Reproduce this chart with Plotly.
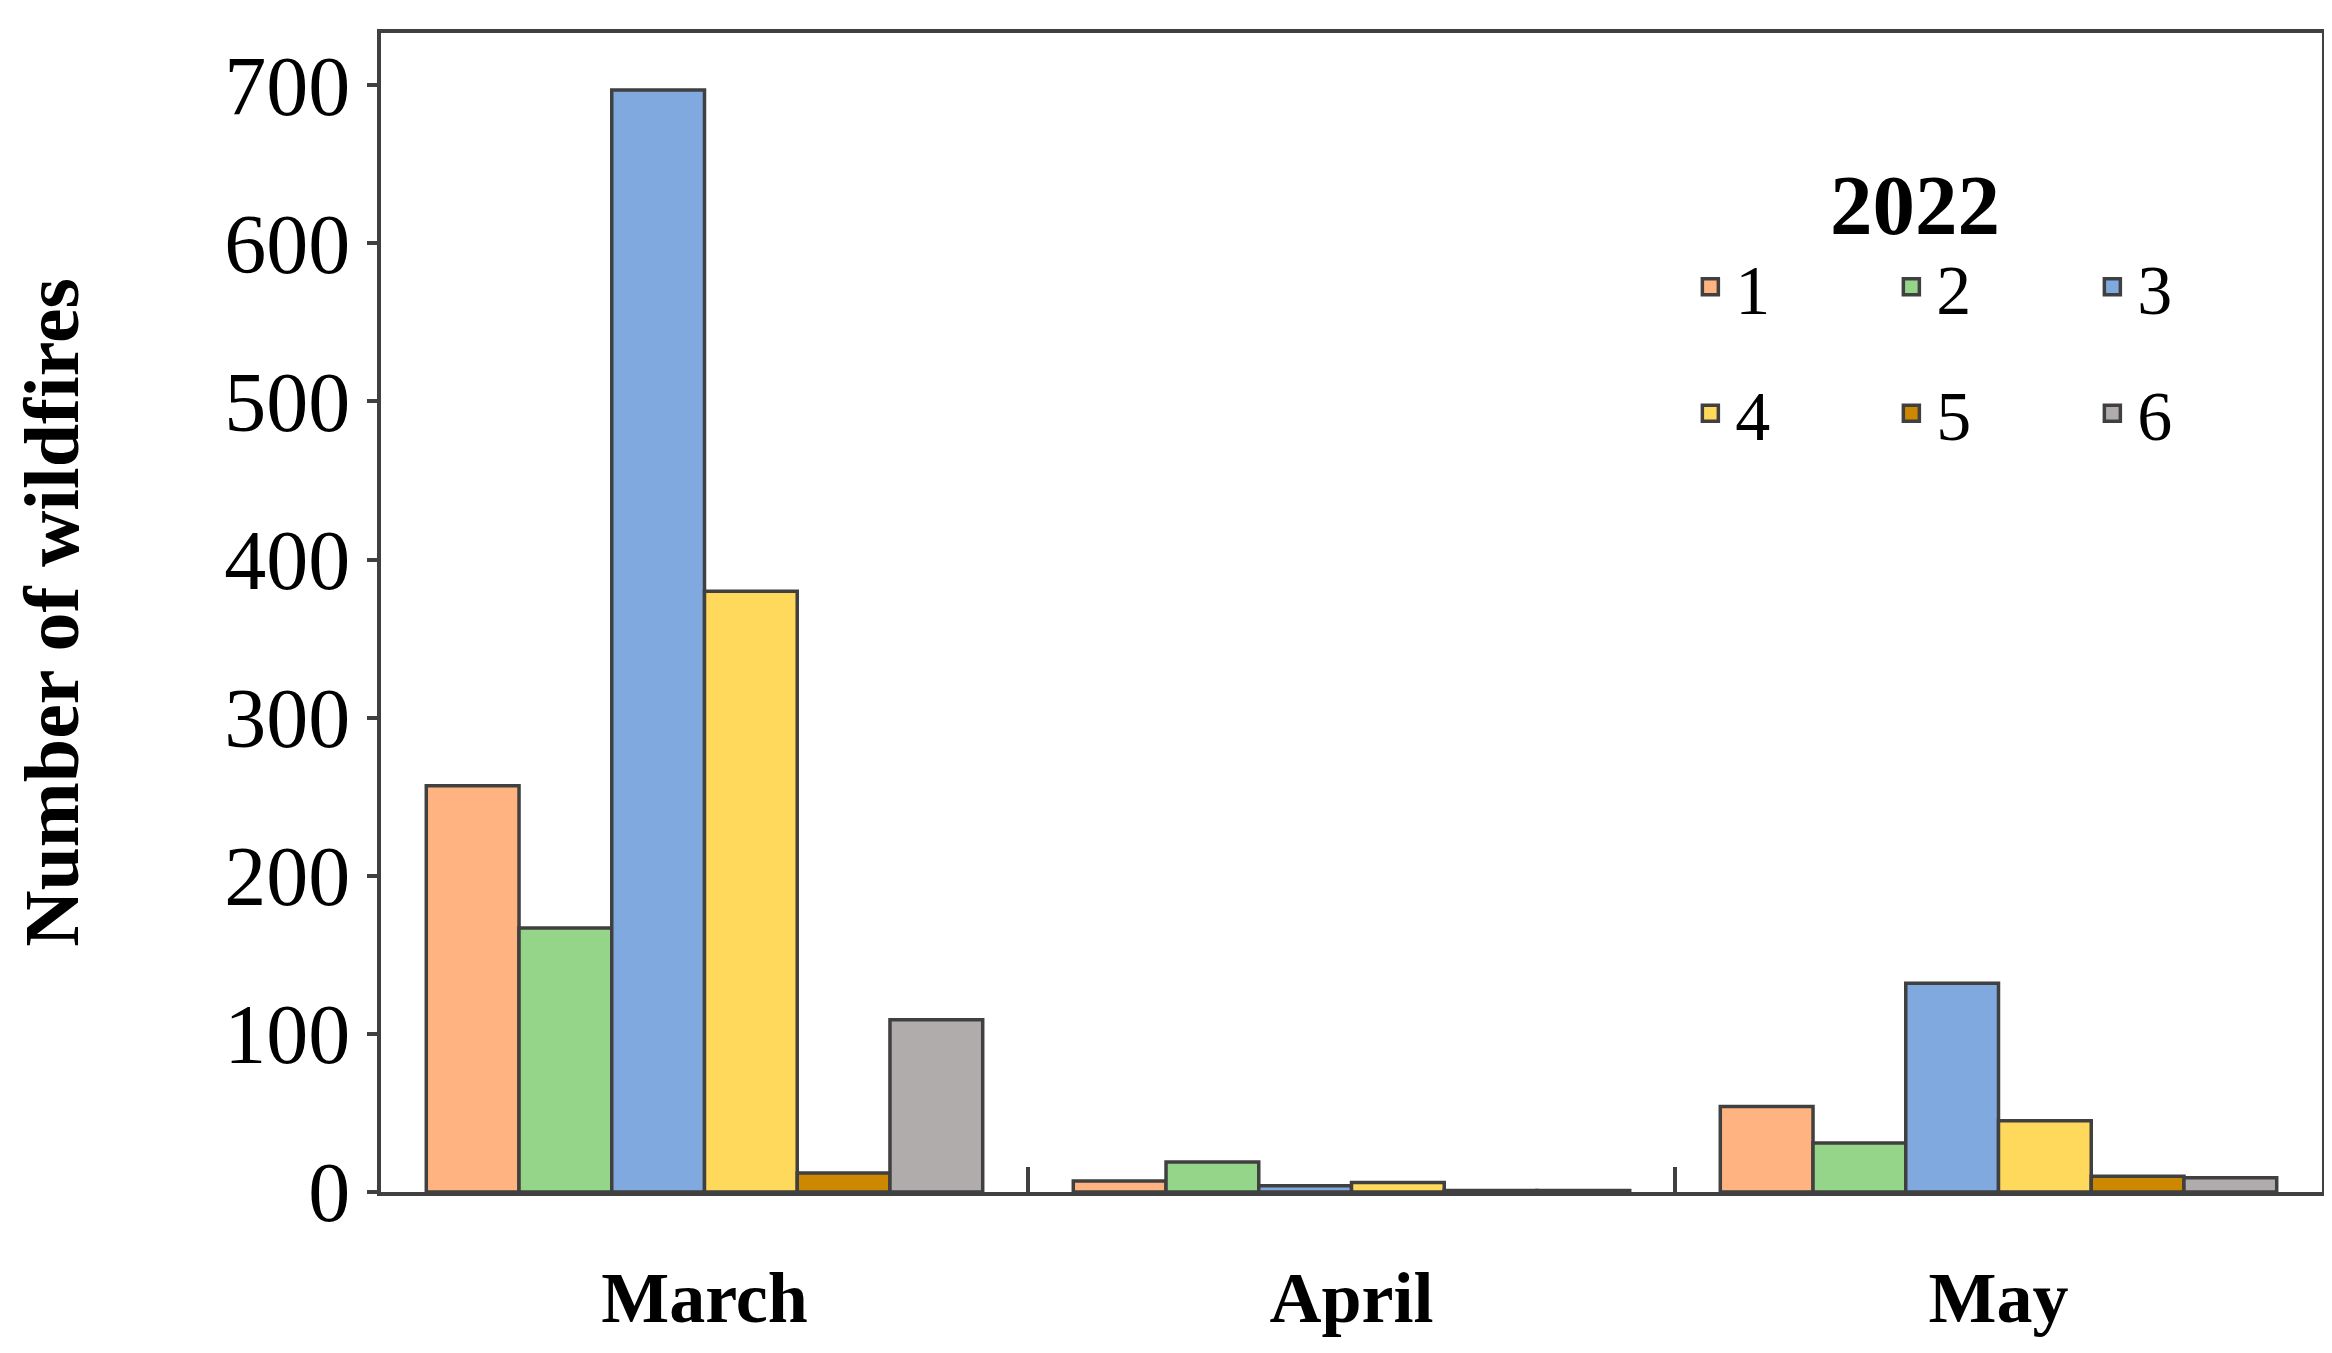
import plotly.graph_objects as go

months = ["March", "April", "May"]
series_names = ["1", "2", "3", "4", "5", "6"]
values = [
    [257, 7, 54],
    [167, 19, 31],
    [697, 4, 132],
    [380, 6, 45],
    [12, 1, 10],
    [109, 1, 9],
]
colors = ["#FFB380", "#95D58A", "#80AADF", "#FFD95C", "#CC8800", "#B0ACAC"]
y_ticks = [0, 100, 200, 300, 400, 500, 600, 700]

FONT = "Liberation Serif"
fig = go.Figure()
for i, (n, v, c) in enumerate(zip(series_names, values, colors)):
    fig.add_bar(x=months, y=v, name=n, showlegend=False,
                marker=dict(color=c, line=dict(color="#404040", width=3.5)))
for i, (n, c) in enumerate(zip(series_names, colors)):
    fig.add_scatter(x=[None], y=[None], mode="markers", name=n,
                    marker=dict(symbol="square", size=40, color=c, line=dict(color="#404040", width=3.5)),
                    legend="legend" if i < 3 else "legend2")

legend_common = dict(orientation="h", entrywidth=146, entrywidthmode="pixels",
                     font=dict(family=FONT, size=70, color="black"), bgcolor="rgba(0,0,0,0)",
                     xanchor="left", yanchor="middle", itemwidth=40)
fig.update_layout(
    width=2332, height=1353,
    margin=dict(l=351, r=18, t=25, b=169),
    plot_bgcolor="white", paper_bgcolor="white",
    barmode="group", bargap=0.14, bargroupgap=0,
    font=dict(family=FONT, color="black"),
    legend=dict(x=0.672, y=0.781, **legend_common),
    legend2=dict(x=0.672, y=0.672, **legend_common),
    annotations=[dict(text="<b>2022</b>", x=0.835, y=0.894, xref="paper", yref="paper",
                      showarrow=False, font=dict(family=FONT, size=85, color="black"))],
)
fig.update_xaxes(showline=True, linecolor="#404040", linewidth=4, mirror=True,
                 ticks="inside", tickson="boundaries", ticklen=25, tickwidth=4, tickcolor="#404040",
                 tickfont=dict(family=FONT, size=72, color="black"), ticklabelstandoff=40)
fig.update_xaxes(tickvals=months, ticktext=["<b>%s</b>" % m for m in months])
fig.update_yaxes(range=[0, 733], tickvals=y_ticks, showgrid=False, zeroline=False,
                 showline=True, linecolor="#404040", linewidth=4, mirror=True,
                 ticks="outside", ticklen=10, tickwidth=4, tickcolor="#404040",
                 tickfont=dict(family=FONT, size=84, color="black"),
                 title=dict(text="<b>Number of wildfires</b>", font=dict(family=FONT, size=78), standoff=150))
fig.write_html("out.html")
